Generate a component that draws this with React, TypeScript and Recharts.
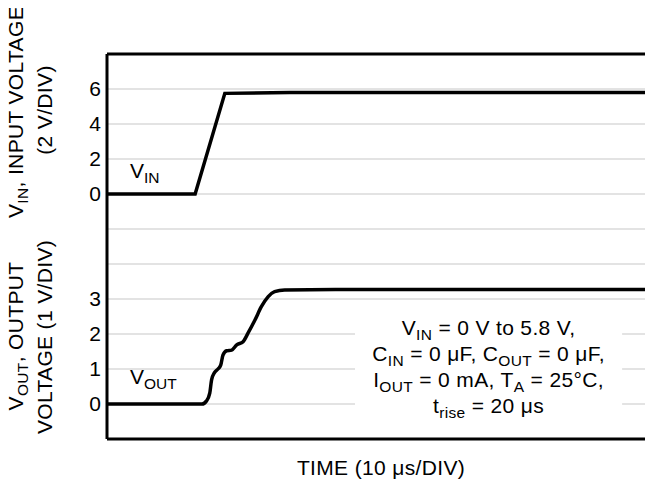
import React from 'react';
import { CartesianGrid, Line, LineChart, ReferenceArea, ReferenceLine, XAxis, YAxis } from 'recharts';

// time in microseconds, 10 us per division, 12 divisions
const timeTicks = [0, 10, 20, 30, 40, 50, 60, 70, 80, 90, 100, 110, 120];
// 11 vertical divisions shared by both traces
const gridRows = [0, 1, 2, 3, 4, 5, 6, 7, 8, 9, 10, 11];

// input trace (volts)
const vinTime = [0, 19.3, 25.8, 40, 60, 80, 100, 120];
const vinVolts = [0, 0, 5.75, 5.8, 5.8, 5.8, 5.8, 5.8];

// output trace (volts)
const voutTime = [0, 20.8, 21.8, 22.5, 22.9, 23.5, 24.3, 24.9, 25.4, 26.2, 27.3, 28.4, 29.8, 30.9, 32.4, 33.8, 35.3, 36.7, 38.9, 50, 120];
const voutVolts = [0, 0, 0.09, 0.31, 0.69, 0.89, 1.0, 1.11, 1.4, 1.52, 1.54, 1.69, 1.78, 2.03, 2.4, 2.78, 3.07, 3.21, 3.26, 3.27, 3.27];

const vinTickValues = [0, 2, 4, 6];
const voutTickValues = [0, 1, 2, 3];

// division position of a voltage on each trace (VIN: 2 V/div, zero at div 7; VOUT: 1 V/div, zero at div 1)
const vinDiv = (v: number) => 7 + v / 2;
const voutDiv = (v: number) => 1 + v;

const vinData = vinTime.map((t, i) => ({ t, d: vinDiv(vinVolts[i]) }));
const voutData = voutTime.map((t, i) => ({ t, d: voutDiv(voutVolts[i]) }));

const tickLabels = new Map<number, string>();
vinTickValues.forEach((v) => tickLabels.set(vinDiv(v), String(v)));
voutTickValues.forEach((v) => tickLabels.set(voutDiv(v), String(v)));

const FONT = '"Liberation Sans", Arial, Helvetica, sans-serif';
const FS = 21;
const SUB = 15.5;
const LS = 0.35;

function Notes(props: any) {
    const { viewBox } = props;
    if (!viewBox) return null;
    const cx = viewBox.x + viewBox.width / 2;
    const y0 = viewBox.y + 22;
    return (
        <text x={cx} y={y0} textAnchor='middle' fontSize={FS} fontFamily={FONT} letterSpacing={LS} fill='#000'>
            <tspan x={cx} y={y0}>V</tspan>
            <tspan fontSize={SUB} dy={5}>IN</tspan>
            <tspan dy={-5}> = 0 V to 5.8 V,</tspan>
            <tspan x={cx} y={y0 + 26}>C</tspan>
            <tspan fontSize={SUB} dy={5}>IN</tspan>
            <tspan dy={-5}> = 0 μF, C</tspan>
            <tspan fontSize={SUB} dy={5}>OUT</tspan>
            <tspan dy={-5}> = 0 μF,</tspan>
            <tspan x={cx} y={y0 + 52}>I</tspan>
            <tspan fontSize={SUB} dy={5}>OUT</tspan>
            <tspan dy={-5}> = 0 mA, T</tspan>
            <tspan fontSize={SUB} dy={5}>A</tspan>
            <tspan dy={-5}> = 25°C,</tspan>
            <tspan x={cx} y={y0 + 78}>t</tspan>
            <tspan fontSize={SUB} dy={5}>rise</tspan>
            <tspan dy={-5}> = 20 μs</tspan>
        </text>
    );
}

function RotLabel({ x, y, children }: { x: number; y: number; children: React.ReactNode }) {
    return (
        <text
            x={x}
            y={y}
            transform={`rotate(-90 ${x} ${y})`}
            textAnchor='middle'
            fontSize={FS}
            fontFamily={FONT}
            letterSpacing={LS}
            fill='#000'
        >
            {children}
        </text>
    );
}

export default function App() {
    return (
        <div style={{ width: 645, height: 471 }}>
            <style>{'.recharts-surface{overflow:visible}'}</style>
            <LineChart
                width={645}
                height={471}
                margin={{ top: 46, right: -2, bottom: 10, left: 59 }}
                style={{ fontFamily: FONT }}
            >
                <CartesianGrid stroke='#c8c8c8' strokeWidth={1.2} />
                <XAxis
                    dataKey='t'
                    type='number'
                    domain={[0, 120]}
                    ticks={timeTicks}
                    tick={false}
                    tickLine={false}
                    axisLine={{ stroke: '#000', strokeWidth: 3 }}
                    height={30}
                    allowDataOverflow
                />
                <YAxis
                    type='number'
                    domain={[0, 11]}
                    ticks={gridRows}
                    interval={0}
                    tickFormatter={(d: number) => tickLabels.get(d) ?? ''}
                    width={40}
                    tickLine={false}
                    tickSize={4}
                    tickMargin={2}
                    tick={{ fill: '#000', fontSize: FS, fontFamily: FONT }}
                    axisLine={{ stroke: '#000', strokeWidth: 3 }}
                    allowDataOverflow
                />
                <ReferenceLine y={11} stroke='#000' strokeWidth={3} />
                <ReferenceArea
                    x1={54.3}
                    x2={112.8}
                    y1={0.46}
                    y2={3.6}
                    fill='#fff'
                    fillOpacity={1}
                    stroke='none'
                    label={<Notes />}
                />
                <Line
                    data={vinData}
                    dataKey='d'
                    type='linear'
                    stroke='#000'
                    strokeWidth={3.5}
                    dot={false}
                    isAnimationActive={false}
                />
                <Line
                    data={voutData}
                    dataKey='d'
                    type='monotone'
                    stroke='#000'
                    strokeWidth={3.5}
                    dot={false}
                    isAnimationActive={false}
                />
                <text x={122} y={170} fontSize={FS} fontFamily={FONT} fill='#000'>
                    V<tspan fontSize={SUB} dy={5}>IN</tspan>
                </text>
                <text x={122} y={376} fontSize={FS} fontFamily={FONT} fill='#000'>
                    V<tspan fontSize={SUB} dy={5}>OUT</tspan>
                </text>
                <RotLabel x={15} y={104}>
                    V<tspan fontSize={SUB} dy={5}>IN</tspan>
                    <tspan dy={-5}>, INPUT VOLTAGE</tspan>
                </RotLabel>
                <RotLabel x={44} y={102}>(2 V/DIV)</RotLabel>
                <RotLabel x={15} y={328}>
                    V<tspan fontSize={SUB} dy={5}>OUT</tspan>
                    <tspan dy={-5}>, OUTPUT</tspan>
                </RotLabel>
                <RotLabel x={44} y={329}>VOLTAGE (1 V/DIV)</RotLabel>
                <text x={373} y={467} textAnchor='middle' fontSize={FS} fontFamily={FONT} letterSpacing={LS} fill='#000'>
                    TIME (10 μs/DIV)
                </text>
            </LineChart>
        </div>
    );
}
